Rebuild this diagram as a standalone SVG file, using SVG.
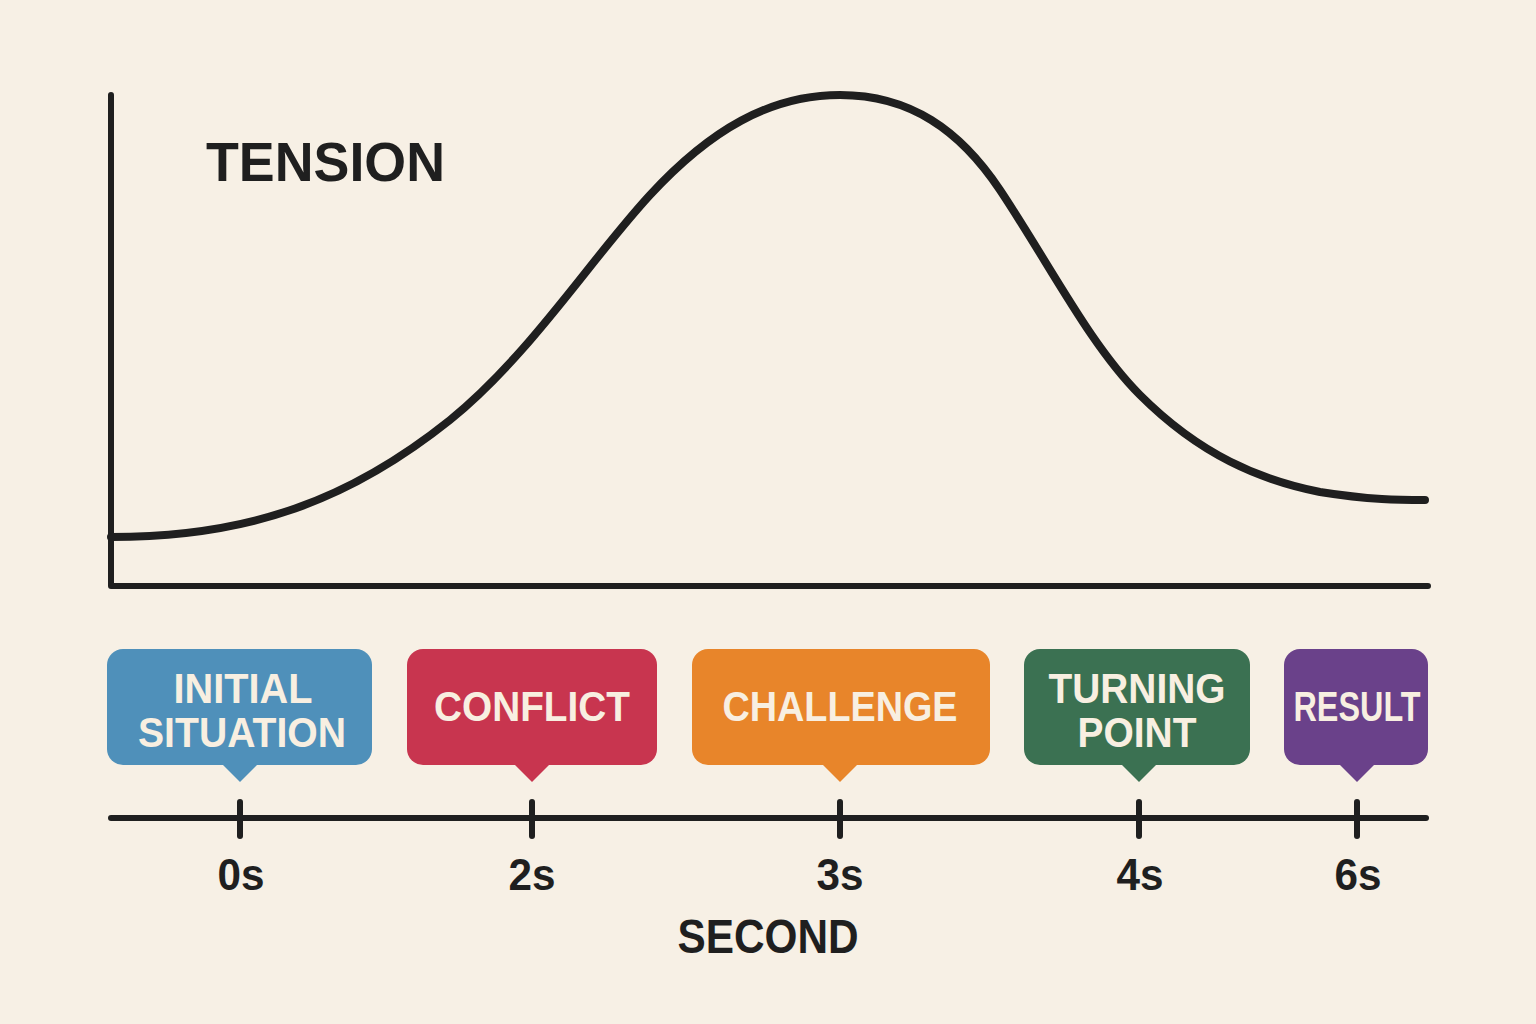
<svg xmlns="http://www.w3.org/2000/svg" width="1536" height="1024" viewBox="0 0 1536 1024">
  <style>
    .axis { fill: none; stroke: #1f1f1f; stroke-width: 6; stroke-linecap: round; stroke-linejoin: round; }
    .curve { fill: none; stroke: #1f1f1f; stroke-width: 8; stroke-linecap: round; }
    .lbl { font-family: "Liberation Sans", Arial, sans-serif; font-weight: bold; fill: #1f1f1f; text-anchor: middle; }
    .box-text { font-family: "Liberation Sans", Arial, sans-serif; font-weight: bold; font-size: 42px; fill: #f8efe1; text-anchor: middle; }
  </style>
  <rect x="0" y="0" width="1536" height="1024" fill="#f7f0e5"/>

  <g id="chart">
    <path class="axis" d="M111,95 L111,586 L1428,586"/>
    <path class="curve" d="M111,537 C250,537 350,500 450,420 C530,355 590,260 650,195 C710,130 770,95 840,95 C910,95 960,130 1000,190 C1050,265 1090,345 1140,395 C1200,455 1260,480 1320,492 C1370,500 1400,500 1425,500"/>
    <text class="lbl" x="206" y="181" font-size="56" text-anchor="start" textLength="239" lengthAdjust="spacingAndGlyphs" style="text-anchor:start">TENSION</text>
  </g>

  <g id="connectors">
    <line class="axis" x1="111" y1="818" x2="1426" y2="818"/>
    <line class="axis" x1="240" y1="802" x2="240" y2="836"/>
    <line class="axis" x1="532" y1="802" x2="532" y2="836"/>
    <line class="axis" x1="840" y1="802" x2="840" y2="836"/>
    <line class="axis" x1="1139" y1="802" x2="1139" y2="836"/>
    <line class="axis" x1="1357" y1="802" x2="1357" y2="836"/>
  </g>

  <g id="tick-labels">
    <text class="lbl" x="241" y="890" font-size="44" textLength="47" lengthAdjust="spacingAndGlyphs">0s</text>
    <text class="lbl" x="532" y="890" font-size="44" textLength="47" lengthAdjust="spacingAndGlyphs">2s</text>
    <text class="lbl" x="840" y="890" font-size="44" textLength="47" lengthAdjust="spacingAndGlyphs">3s</text>
    <text class="lbl" x="1140" y="890" font-size="44" textLength="47" lengthAdjust="spacingAndGlyphs">4s</text>
    <text class="lbl" x="1358" y="890" font-size="44" textLength="47" lengthAdjust="spacingAndGlyphs">6s</text>
    <text class="lbl" x="768" y="953" font-size="48" textLength="181" lengthAdjust="spacingAndGlyphs">SECOND</text>
  </g>

  <g id="node-initial">
    <rect x="107" y="649" width="265" height="116" rx="16" fill="#4f90ba"/>
    <polygon points="222,764 258,764 240,782" fill="#4f90ba"/>
    <text class="box-text" x="243" y="703" textLength="139" lengthAdjust="spacingAndGlyphs">INITIAL</text>
    <text class="box-text" x="242" y="747" textLength="208" lengthAdjust="spacingAndGlyphs">SITUATION</text>
  </g>

  <g id="node-conflict">
    <rect x="407" y="649" width="250" height="116" rx="16" fill="#c8354f"/>
    <polygon points="514,764 550,764 532,782" fill="#c8354f"/>
    <text class="box-text" x="532" y="721" textLength="196" lengthAdjust="spacingAndGlyphs">CONFLICT</text>
  </g>

  <g id="node-challenge">
    <rect x="692" y="649" width="298" height="116" rx="16" fill="#e8852a"/>
    <polygon points="822,764 858,764 840,782" fill="#e8852a"/>
    <text class="box-text" x="840" y="721" textLength="235" lengthAdjust="spacingAndGlyphs">CHALLENGE</text>
  </g>

  <g id="node-turning-point">
    <rect x="1024" y="649" width="226" height="116" rx="16" fill="#3b7152"/>
    <polygon points="1121,764 1157,764 1139,782" fill="#3b7152"/>
    <text class="box-text" x="1137" y="703" textLength="177" lengthAdjust="spacingAndGlyphs">TURNING</text>
    <text class="box-text" x="1137" y="747" textLength="119" lengthAdjust="spacingAndGlyphs">POINT</text>
  </g>

  <g id="node-result">
    <rect x="1284" y="649" width="144" height="116" rx="16" fill="#6a418a"/>
    <polygon points="1339,764 1375,764 1357,782" fill="#6a418a"/>
    <text class="box-text" x="1357" y="721" textLength="127" lengthAdjust="spacingAndGlyphs">RESULT</text>
  </g>
</svg>
